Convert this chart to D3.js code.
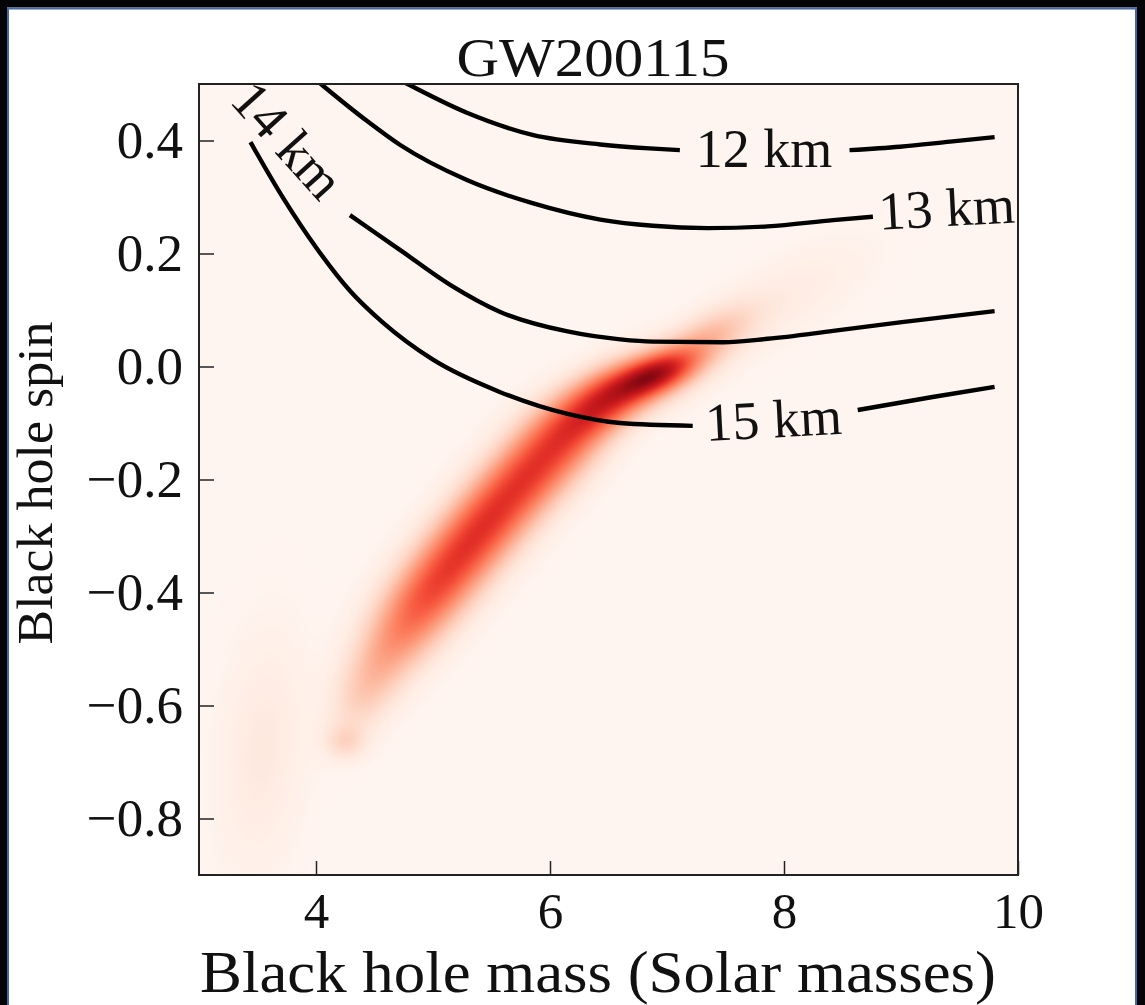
<!DOCTYPE html>
<html>
<head>
<meta charset="utf-8">
<script src="https://cdn.jsdelivr.net/npm/d3@7"></script>
<style>
  body { margin: 0; background: #fff; }
  svg { display: block; }
  text { font-family: "Liberation Serif", "Times New Roman", serif; fill: #111; }
</style>
</head>
<body>
<div id="chart"></div>
<script>
// axis ticks
var massTicks = [4, 6, 8, 10];
var spinTicks = [0.4, 0.2, 0.0, -0.2, -0.4, -0.6, -0.8];

// posterior density, read off the picture as a handful of blobs
// (centre mass, centre spin, spread in mass, spread in spin, correlation, height)
var blobMass   = [6.90, 6.77, 6.43, 6.09, 5.79, 5.50, 5.23, 4.97, 4.74, 4.53, 4.36, 4.25, 7.39, 8.05, 3.54];
var blobSpin   = [-0.015, -0.027, -0.068, -0.130, -0.197, -0.266, -0.334, -0.401, -0.466, -0.534, -0.599, -0.665, 0.056, 0.127, -0.679];
var blobSdMass = [0.241, 0.394, 0.245, 0.248, 0.245, 0.242, 0.240, 0.238, 0.235, 0.213, 0.189, 0.120, 0.268, 0.457, 0.246];
var blobSdSpin = [0.029, 0.049, 0.0435, 0.0502, 0.0508, 0.0515, 0.0519, 0.0523, 0.0529, 0.0528, 0.0504, 0.0212, 0.0395, 0.0655, 0.141];
var blobCorr   = [0.55, 0.63, 0.42, 0.24, 0.24, 0.24, 0.24, 0.24, 0.23, 0.32, 0.31, 0.0, 0.60, 0.65, 0.21];
var blobHeight = [0.55, 0.30, 0.43, 0.43, 0.43, 0.43, 0.41, 0.37, 0.25, 0.16, 0.10, 0.12, 0.18, 0.05, 0.07];

// neutron star radius contours, each one split where its label sits
var contourNames = ["12 km", "13 km", "14 km", "15 km"];
var contourMass = [
  [[4.67, 4.80, 5.29, 5.85, 6.43, 6.85, 7.11], [8.56, 8.99, 9.42, 9.80]],
  [[3.95, 4.06, 4.44, 4.72, 5.29, 5.85, 6.43, 6.88, 7.35, 7.86, 8.42, 8.76]],
  [[4.29, 4.72, 5.15, 5.57, 6.15, 6.60, 6.88, 7.48, 7.86, 8.42, 8.99, 9.80]],
  [[3.44, 3.72, 4.01, 4.29, 4.57, 5.00, 5.57, 6.15, 6.60, 7.22], [8.63, 9.27, 9.80]]
];
var contourSpin = [
  [[0.512, 0.498, 0.449, 0.410, 0.393, 0.386, 0.383], [0.383, 0.389, 0.398, 0.406]],
  [[0.516, 0.497, 0.434, 0.392, 0.330, 0.289, 0.260, 0.249, 0.245, 0.248, 0.259, 0.265]],
  [[0.268, 0.206, 0.144, 0.097, 0.062, 0.048, 0.044, 0.043, 0.049, 0.063, 0.078, 0.098]],
  [[0.397, 0.298, 0.208, 0.134, 0.078, 0.012, -0.045, -0.084, -0.100, -0.105], [-0.077, -0.054, -0.036]]
];
var labelMass = [7.83, 9.39, 3.76, 7.91];
var labelSpin = [0.385, 0.281, 0.401, -0.093];

var width = 1145, height = 1005;
var plotLeft = 199, plotRight = 1018, plotTop = 84, plotBottom = 875;

var x = d3.scaleLinear().domain([3, 10]).range([plotLeft, plotRight]);
var y = d3.scaleLinear().domain([-0.9, 0.5]).range([plotBottom, plotTop]);
var colour = d3.scaleSequential(d3.interpolateReds).domain([0, 1]).clamp(true);

var svg = d3.select("#chart").append("svg")
    .attr("width", width)
    .attr("height", height);

// page frame
svg.append("rect").attr("x", 0).attr("y", 0).attr("width", width).attr("height", 7.5).style("fill", "#050508");
svg.append("rect").attr("x", 0).attr("y", 0).attr("width", 7).attr("height", height).style("fill", "#050508");
svg.append("rect").attr("x", 1137).attr("y", 0).attr("width", 8).attr("height", height).style("fill", "#050508");
svg.append("path")
    .attr("d", "M8,1005V8.5H1136V1005")
    .style("fill", "none")
    .style("stroke", "#4468a3")
    .style("stroke-width", 2);

// density image
var blobs = blobMass.map(function(m, i) {
  return { m: m, s: blobSpin[i], sm: blobSdMass[i], ss: blobSdSpin[i], r: blobCorr[i], h: blobHeight[i] };
});

function density(m, s) {
  var v = 0;
  for (var k = 0; k < blobs.length; k++) {
    var b = blobs[k];
    var dx = (m - b.m) / b.sm, dy = (s - b.s) / b.ss;
    var q = (dx * dx - 2 * b.r * dx * dy + dy * dy) / (1 - b.r * b.r);
    if (q < 40) v += b.h * Math.exp(-0.5 * q);
  }
  return v;
}

var lut = d3.range(256).map(function(i) { return d3.rgb(colour(i / 255)); });
var cw = plotRight - plotLeft, ch = plotBottom - plotTop;
var canvas = document.createElement("canvas");
canvas.width = cw;
canvas.height = ch;
var ctx = canvas.getContext("2d");
var img = ctx.createImageData(cw, ch);
for (var j = 0; j < ch; j++) {
  var sp = y.invert(plotTop + j + 0.5);
  for (var i = 0; i < cw; i++) {
    var v = density(x.invert(plotLeft + i + 0.5), sp);
    var c = lut[Math.max(0, Math.min(255, Math.round(v * 255)))];
    var p = (j * cw + i) * 4;
    img.data[p] = c.r; img.data[p + 1] = c.g; img.data[p + 2] = c.b; img.data[p + 3] = 255;
  }
}
ctx.putImageData(img, 0, 0);

svg.append("image")
    .attr("x", plotLeft)
    .attr("y", plotTop)
    .attr("width", cw)
    .attr("height", ch)
    .attr("href", canvas.toDataURL());

svg.append("clipPath").attr("id", "plotclip")
  .append("rect")
    .attr("x", plotLeft).attr("y", plotTop).attr("width", cw).attr("height", ch);

var plot = svg.append("g").attr("clip-path", "url(#plotclip)");

// contour lines
var line = d3.line()
    .x(function(d) { return x(d[0]); })
    .y(function(d) { return y(d[1]); })
    .curve(d3.curveMonotoneX);

contourMass.forEach(function(segs, ci) {
  segs.forEach(function(ms, si) {
    var pts = ms.map(function(m, k) { return [m, contourSpin[ci][si][k]]; });
    plot.append("path")
        .attr("d", line(pts))
        .style("fill", "none")
        .style("stroke", "#000")
        .style("stroke-width", 4.4)
        .style("stroke-linecap", "butt");
  });
});

// contour labels
var labelAngle = [0, -3, 48, -3];
contourNames.forEach(function(name, ci) {
  plot.append("text")
      .attr("transform", "translate(" + x(labelMass[ci]) + "," + y(labelSpin[ci]) + ") rotate(" + labelAngle[ci] + ")")
      .attr("text-anchor", "middle")
      .attr("dy", "0.34em")
      .style("font-size", "54px")
      .text(name);
});

// axes, ticks pointing inwards
var xAxis = d3.axisBottom(x)
    .tickValues(massTicks)
    .tickFormat(d3.format("d"))
    .tickSizeInner(-14)
    .tickSizeOuter(0)
    .tickPadding(17);

var yAxis = d3.axisLeft(y)
    .tickValues(spinTicks)
    .tickFormat(d3.format(".1f"))
    .tickSizeInner(-15)
    .tickSizeOuter(0)
    .tickPadding(16);

var gx = svg.append("g").attr("transform", "translate(0," + plotBottom + ")").call(xAxis);
var gy = svg.append("g").attr("transform", "translate(" + plotLeft + ",0)").call(yAxis);
[gx, gy].forEach(function(g) {
  g.select(".domain").remove();
  g.attr("font-family", null).attr("font-size", null);
  g.selectAll(".tick line").style("stroke", "#222").style("stroke-width", 1.5);
  g.selectAll(".tick text").style("font-size", "53px").style("fill", "#111");
});
gx.selectAll(".tick text").style("font-size", "51px");

// frame
svg.append("rect")
    .attr("x", plotLeft).attr("y", plotTop).attr("width", cw).attr("height", ch)
    .style("fill", "none")
    .style("stroke", "#222")
    .style("stroke-width", 2);

// titles
svg.append("text")
    .attr("x", 593).attr("y", 76)
    .attr("text-anchor", "middle")
    .style("font-size", "54px")
    .attr("textLength", 273)
    .attr("lengthAdjust", "spacingAndGlyphs")
    .text("GW200115");

svg.append("text")
    .attr("x", 598).attr("y", 992)
    .attr("text-anchor", "middle")
    .style("font-size", "59px")
    .attr("textLength", 796)
    .attr("lengthAdjust", "spacingAndGlyphs")
    .text("Black hole mass (Solar masses)");

svg.append("text")
    .attr("transform", "translate(52,483) rotate(-90)")
    .attr("text-anchor", "middle")
    .style("font-size", "50px")
    .attr("textLength", 323)
    .attr("lengthAdjust", "spacingAndGlyphs")
    .text("Black hole spin");
</script>
</body>
</html>
